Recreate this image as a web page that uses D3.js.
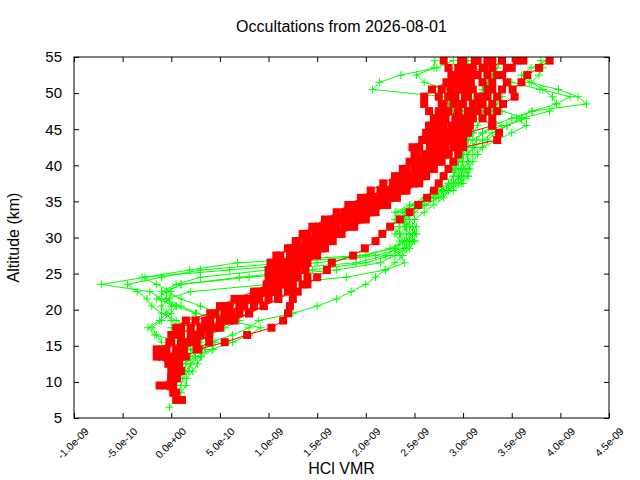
<!DOCTYPE html>
<meta charset="utf-8">
<script src="https://d3js.org/d3.v7.min.js"></script>
<style>
  body { margin: 0; background: #fff; }
  text { font-family: "Liberation Sans", Arial, sans-serif; fill: #000; }
</style>
<div id="chart"></div>
<script>
  // altitude grid of the profiles (km)
  var altKm = [ 6.5,  7.5,  8.5,  9.5, 10.5, 11.5, 12.5, 13.5, 14.5, 15.5,
               16.5, 17.5, 18.5, 19.5, 20.5, 21.5, 22.5, 23.5, 24.5, 25.5,
               26.5, 27.5, 28.5, 29.5, 30.5, 31.5, 32.5, 33.5, 34.5, 35.5,
               36.5, 37.5, 38.5, 39.5, 40.5, 41.5, 42.5, 43.5, 44.5, 45.5,
               46.5, 47.5, 48.5, 49.5, 50.5, 51.5, 52.5, 53.5, 54.5];

  // HCl VMR, in units of 1e-9, green profiles
  var green1 = [-0.02, 0.05, 0.10, 0.15, 0.16, 0.22, 0.27, 0.31, 0.43, 0.40,
                0.63, 0.80, 0.90, 1.25, 1.50, 1.70, 1.85, 2.00, 2.10, 2.20,
                2.30, 2.38, 2.45, 2.50, 2.42, 2.40, 2.35, 2.40, 2.55, 2.66,
                2.83, 2.95, 3.05, 3.07, 3.05, 3.04, 3.10, 3.14, 3.20, 3.30,
                3.50, 3.71, 4.27, 4.18, 3.98, 3.68, 3.60, 3.70, 3.86];
  var green2 = [null, null, 0.05, 0.10, 0.12, 0.18, 0.20, 0.25, 0.20, 0.10,
                -0.17, -0.24, -0.12, -0.05, 0.00, -0.10, -0.22, -0.72, -0.27, 0.19,
                0.68, 1.94, 2.30, 2.35, 2.30, 2.35, 2.32, 2.30, 2.45, 2.60,
                2.70, 2.85, 2.90, 2.95, 2.90, 2.95, 3.00, 3.05, 3.10, 3.00,
                2.95, 2.90, 2.85, 2.81, 2.07, 2.14, 2.36, 2.73, 2.90];
  var green3 = [null, null, null, 0.05, 0.08, 0.15, 0.20, 0.30, 0.35, 0.30,
                0.25, 0.10, 0.00, -0.05, -0.10, -0.02, 0.00, -0.15, -0.30, 0.60,
                1.50, 2.10, 2.38, 2.45, 2.35, 2.42, 2.38, 2.32, 2.50, 2.62,
                2.75, 2.88, 2.98, 3.00, 3.05, 3.10, 3.20, 3.35, 3.50, 3.65,
                3.55, 3.71, 3.96, 3.92, 3.82, 3.70, 3.78, 3.82, 3.80];
  var green4 = [null, null, null, null, null, 0.12, 0.15, 0.20, 0.30, 0.45,
                0.35, 0.20, 0.05, -0.10, -0.20, -0.25, -0.35, -0.45, -0.10, 0.30,
                1.20, 2.00, 2.25, 2.40, 2.48, 2.52, 2.45, 2.42, 2.54, 2.70,
                2.80, 2.90, 2.95, 2.98, 3.00, 3.00, 3.05, 3.10, 3.20, 3.40,
                3.30, 3.20, 3.10, 3.15, 3.20, 3.25, 3.30, 3.35, 3.40];
  var green5 = [null, null, null, null, null, null, null, 0.10, 0.20, 0.28,
                0.40, 0.55, 0.70, 0.50, 0.30, 0.10, -0.05, 0.10, 0.80, 1.70,
                2.15, 2.30, 2.42, 2.50, 2.45, 2.40, 2.50, 2.60, 2.70, 2.80,
                2.85, 2.92, 3.00, 3.05, 3.10, 3.15, 3.20, 3.25, 3.35, 3.45,
                3.60, 3.89, 3.96, 4.10, 3.79, 3.50, 3.30, 3.10, 3.02];
  var green6 = [null, null, null, null, null, null, null, null, null, -0.10,
                -0.15, -0.20, -0.10, 0.00, 0.05, -0.05, -0.10, 0.05, 0.30, 1.00,
                1.90, 2.20, 2.30, 2.42, 2.50, 2.45, 2.40, 2.45, 2.60, 2.75,
                2.90, 3.00, 2.95, 2.90, 2.95, 3.00, 2.95, 2.90, 2.95, 3.00,
                3.10, 3.00, 2.95, 2.90, 2.85, 2.60, 2.52, 2.70, 2.71];
  var green7 = [null, null, null, null, null, null, null, null, null, null,
                null, 0.00, 0.15, 0.26, 0.10, -0.05, 0.20, 1.00, 1.80, 2.20,
                2.40, 2.35, 2.30, 2.38, 2.35, 2.28, 2.30, 2.38, 2.50, 2.65,
                2.78, 2.85, 2.90, 2.92, 2.95, 2.98, 3.00, 3.05, 3.10, 3.15,
                3.20, 3.30, 3.35, 3.40, 3.30, 3.20, 3.10, 3.05, 3.10];
  var green8 = [null, null, null, null, null, 0.05, 0.12, 0.25, 0.42, 0.63,
                0.80, 0.92, 0.60, 0.25, 0.05, -0.15, -0.05, 0.10, 0.70, 1.45,
                2.00, 2.25, 2.40, 2.48, 2.52, 2.48, 2.40, 2.50, 2.62, 2.72,
                2.85, 2.98, 3.05, 3.02, 2.98, 3.05, 3.12, 3.20, 3.30, 3.45,
                3.65, 3.40, 3.20, 3.05, 2.95, 2.90, 2.95, 3.00, 3.05];

  // HCl VMR, in units of 1e-9, red profiles
  var red1 = [null, 0.05, 0.02, -0.12, 0.00, 0.02, 0.00, -0.05, -0.15, 0.00,
              0.05, 0.10, 0.25, 0.45, 0.60, 0.75, 0.95, 1.05, 1.05, 1.00,
              1.03, 1.12, 1.20, 1.30, 1.40, 1.52, 1.65, 1.78, 1.90, 2.02,
              2.15, 2.28, 2.38, 2.42, 2.50, 2.52, 2.48, 2.58, 2.65, 2.68,
              2.72, 2.65, 2.60, 2.60, 2.68, 2.83, 2.88, 2.85, 2.80];
  var red2 = [null, 0.11, 0.05, 0.02, 0.06, 0.08, 0.05, 0.02, 0.10, 0.20,
              0.30, 0.45, 0.55, 0.70, 0.85, 1.00, 1.10, 1.15, 1.15, 1.12,
              1.20, 1.28, 1.35, 1.45, 1.55, 1.65, 1.78, 1.90, 2.02, 2.12,
              2.25, 2.38, 2.48, 2.55, 2.60, 2.65, 2.70, 2.75, 2.78, 2.80,
              2.82, 2.85, 2.90, 2.92, 2.95, 3.00, 3.05, 3.10, 3.15];
  var red3 = [null, null, null, null, 0.00, 0.05, 0.02, 0.15, 0.28, 0.55,
              0.78, 1.03, 1.15, 1.20, 1.22, 1.25, 1.30, 1.35, 1.40, 1.38,
              1.35, 1.42, 1.50, 1.60, 1.72, 1.85, 1.95, 2.05, 2.15, 2.28,
              2.40, 2.50, 2.60, 2.70, 2.78, 2.85, 2.90, 2.95, 3.00, 3.07,
              3.10, 3.15, 3.20, 3.25, 3.30, 3.20, 3.25, 3.30, 3.40];
  var red4 = [null, null, null, null, null, null, 0.08, 0.10, 0.13, 0.26,
              0.39, 0.50, 0.65, 0.80, 0.95, 1.10, 1.25, 1.40, 1.50, 1.60,
              1.65, 1.87, 1.99, 2.10, 2.17, 2.25, 2.35, 2.45, 2.54, 2.63,
              2.70, 2.75, 2.80, 2.85, 2.90, 2.95, 3.00, 3.35, 3.37, 3.30,
              3.30, 3.35, 3.41, 3.53, 3.51, 3.60, 3.66, 3.78, 3.89];
  var red5 = [null, null, null, null, null, null, null, -0.10, -0.05, 0.10,
              0.20, 0.35, 0.50, 0.62, 0.75, 0.90, 1.05, 1.20, 1.25, 1.30,
              1.40, 1.50, 1.58, 1.66, 1.75, 1.88, 2.00, 2.10, 2.22, 2.32,
              2.42, 2.55, 2.62, 2.68, 2.72, 2.78, 2.82, 2.85, 2.90, 2.95,
              3.00, 3.05, 3.10, 3.15, 3.10, 3.05, 3.10, 3.20, 3.25];
  var red6 = [null, null, null, -0.05, 0.03, 0.00, -0.03, -0.15, -0.10, -0.02,
              0.00, 0.05, 0.15, 0.40, 0.50, 0.65, 0.85, 0.98, 1.00, 1.02,
              1.02, 1.08, 1.22, 1.28, 1.35, 1.45, 1.58, 1.70, 1.82, 1.95,
              2.05, 2.18, 2.30, 2.38, 2.45, 2.50, 2.55, 2.60, 2.62, 2.65,
              2.70, 2.75, 2.80, 2.85, 2.87, 2.90, 2.95, 2.98, 3.00];
  var red7 = [null, null, null, null, null, null, null, null, 0.26, 0.39,
              0.30, 0.40, 0.60, 0.80, 0.95, 1.10, 1.20, 1.25, 1.30, 1.25,
              1.30, 1.35, 1.45, 1.55, 1.65, 1.78, 1.90, 2.00, 2.10, 2.20,
              2.32, 2.45, 2.55, 2.65, 2.75, 2.85, 2.95, 3.00, 3.05, 3.30,
              3.20, 3.25, 3.30, 3.35, 3.40, 3.45, 3.40, 3.50, 3.55];
  var red8 = [null, null, null, null, null, 0.10, 0.05, 0.00, 0.05, 0.15,
              0.25, 0.30, 0.40, 0.55, 0.70, 0.82, 0.92, 1.08, 1.10, 1.18,
              1.25, 1.35, 1.42, 1.50, 1.62, 1.70, 1.82, 1.95, 2.05, 2.15,
              2.30, 2.40, 2.50, 2.58, 2.65, 2.70, 2.75, 2.80, 2.85, 2.88,
              2.92, 2.95, 3.00, 3.05, 3.00, 2.95, 3.00, 3.05, 3.12];
  var red9 = [null, null, null, null, null, null, null, null, null, null,
              0.10, 0.20, 0.35, 0.55, 0.72, 0.90, 1.02, 1.12, 1.20, 1.22,
              1.10, 1.22, 1.30, 1.38, 1.48, 1.60, 1.72, 1.85, 1.98, 2.08,
              2.20, 2.33, 2.43, 2.50, 2.56, 2.60, 2.68, 2.72, 2.72, 2.75,
              2.78, 2.80, 2.78, 2.75, 2.78, 2.90, 2.93, 2.95, 2.98];
  var red10 = [null, null, null, null, null, null, null, null, null, null,
               null, null, null, null, 0.55, 0.72, 0.88, 1.00, 1.08, 1.05,
               1.15, 1.25, 1.32, 1.40, 1.50, 1.62, 1.75, 1.88, 2.00, 2.10,
               2.22, 2.35, 2.45, 2.52, 2.58, 2.62, 2.66, 2.68, 2.70, 2.75,
               2.80, 2.95, 2.98, 3.02, 3.05, 3.08, 3.15, 3.22, 3.30];
  var red11 = [null, null, null, null, null, null, null, null, null, null,
               null, null, null, null, null, null, null, null, 1.25, 1.20,
               1.28, 1.42, 1.55, 1.62, 1.70, 1.80, 1.92, 2.05, 2.12, 2.25,
               2.35, 2.48, 2.58, 2.62, 2.68, 2.74, 2.80, 2.88, 2.95, 3.00,
               3.05, 3.10, 3.18, 3.20, 3.25, 3.30, 3.35, 3.45, 3.62];

  var greenProfiles = [green1, green2, green3, green4, green5, green6, green7, green8];
  var redProfiles = [red1, red2, red3, red4, red5, red6, red7, red8, red9, red10, red11];

  // ticks
  var xTickValues = [-1.0e-9, -0.5e-9, 0, 0.5e-9, 1.0e-9, 1.5e-9, 2.0e-9, 2.5e-9, 3.0e-9, 3.5e-9, 4.0e-9, 4.5e-9];
  var xTickLabels = ["-1.0e-09", "-5.0e-10", "0.0e+00", "5.0e-10", "1.0e-09", "1.5e-09",
                     "2.0e-09", "2.5e-09", "3.0e-09", "3.5e-09", "4.0e-09", "4.5e-09"];
  var yTickValues = [5, 10, 15, 20, 25, 30, 35, 40, 45, 50, 55];

  var ppb = 1e-9;

  // set the dimensions and margins of the graph
  var margin = {top: 57, right: 31, bottom: 62, left: 74},
      width = 640 - margin.left - margin.right,
      height = 480 - margin.top - margin.bottom;

  var root = d3.select("#chart")
    .append("svg")
      .attr("width", 640)
      .attr("height", 480);

  var svg = root.append("g")
      .attr("transform", "translate(" + margin.left + "," + margin.top + ")");

  var x = d3.scaleLinear().domain([-1.0e-9, 4.5e-9]).range([0, width]);
  var y = d3.scaleLinear().domain([5, 55]).range([height, 0]);

  svg.append("clipPath").attr("id", "plotclip")
    .append("rect").attr("width", width).attr("height", height);

  // axes with inward ticks on all four sides
  var bottomAxis = svg.append("g")
    .attr("transform", "translate(0," + height + ")")
    .call(d3.axisBottom(x).tickValues(xTickValues).tickSize(-5)
      .tickFormat(function(d, i) { return xTickLabels[i]; }));
  bottomAxis.selectAll("text")
    .attr("x", 0).attr("y", 0).attr("dy", 0)
    .attr("transform", "translate(15,14) rotate(-45)")
    .style("text-anchor", "end")
    .style("font-size", "10.5px");

  svg.append("g")
    .call(d3.axisTop(x).tickValues(xTickValues).tickSize(-5).tickFormat(""));

  var leftAxis = svg.append("g")
    .call(d3.axisLeft(y).tickValues(yTickValues).tickSize(-5).tickPadding(12));
  leftAxis.selectAll("text").style("font-size", "15px");

  svg.append("g")
    .attr("transform", "translate(" + width + ",0)")
    .call(d3.axisRight(y).tickValues(yTickValues).tickSize(-5).tickFormat(""));

  svg.selectAll(".domain").remove();
  svg.selectAll(".tick line").attr("stroke", "#000");
  svg.selectAll(".tick text").attr("fill", "#000").style("font-family", "'Liberation Sans', Arial, sans-serif");

  var plot = svg.append("g").attr("clip-path", "url(#plotclip)");

  function pairs(profile) {
    return profile.map(function(v, i) { return {v: v, alt: altKm[i]}; })
      .filter(function(d) { return d.v !== null; });
  }

  var line = d3.line()
    .x(function(d) { return x(d.v * ppb); })
    .y(function(d) { return y(d.alt); });

  // green profiles: lines with + markers
  greenProfiles.forEach(function(p) {
    var pts = pairs(p);
    plot.append("path")
      .attr("d", line(pts))
      .attr("fill", "none")
      .attr("stroke", "#00ff00")
      .attr("stroke-width", 1);
    plot.selectAll(null)
      .data(pts)
      .enter()
      .append("path")
        .attr("transform", function(d) { return "translate(" + x(d.v * ppb) + "," + y(d.alt) + ")"; })
        .attr("d", "M-4,0H4M0,-4V4")
        .attr("stroke", "#00ff00")
        .attr("stroke-width", 1);
  });

  // red profiles: lines with filled squares
  redProfiles.forEach(function(p) {
    var pts = pairs(p);
    plot.append("path")
      .attr("d", line(pts))
      .attr("fill", "none")
      .attr("stroke", "#ff0000")
      .attr("stroke-width", 1);
    plot.selectAll(null)
      .data(pts)
      .enter()
      .append("rect")
        .attr("x", function(d) { return x(d.v * ppb) - 4; })
        .attr("y", function(d) { return y(d.alt) - 4; })
        .attr("width", 8)
        .attr("height", 8)
        .attr("fill", "#ff0000");
  });

  // border
  svg.append("rect")
    .attr("width", width)
    .attr("height", height)
    .attr("fill", "none")
    .attr("stroke", "#000")
    .attr("stroke-width", 1);

  // Title
  root.append("text")
    .attr("x", margin.left + width / 2)
    .attr("y", 32)
    .attr("text-anchor", "middle")
    .style("font-size", "16px")
    .text("Occultations from 2026-08-01");

  // X axis label
  root.append("text")
    .attr("x", margin.left + width / 2)
    .attr("y", 474)
    .attr("text-anchor", "middle")
    .style("font-size", "16px")
    .text("HCl VMR");

  // Y axis label
  root.append("text")
    .attr("transform", "translate(19," + (margin.top + height / 2) + ") rotate(-90)")
    .attr("text-anchor", "middle")
    .style("font-size", "16px")
    .text("Altitude (km)");
</script>
